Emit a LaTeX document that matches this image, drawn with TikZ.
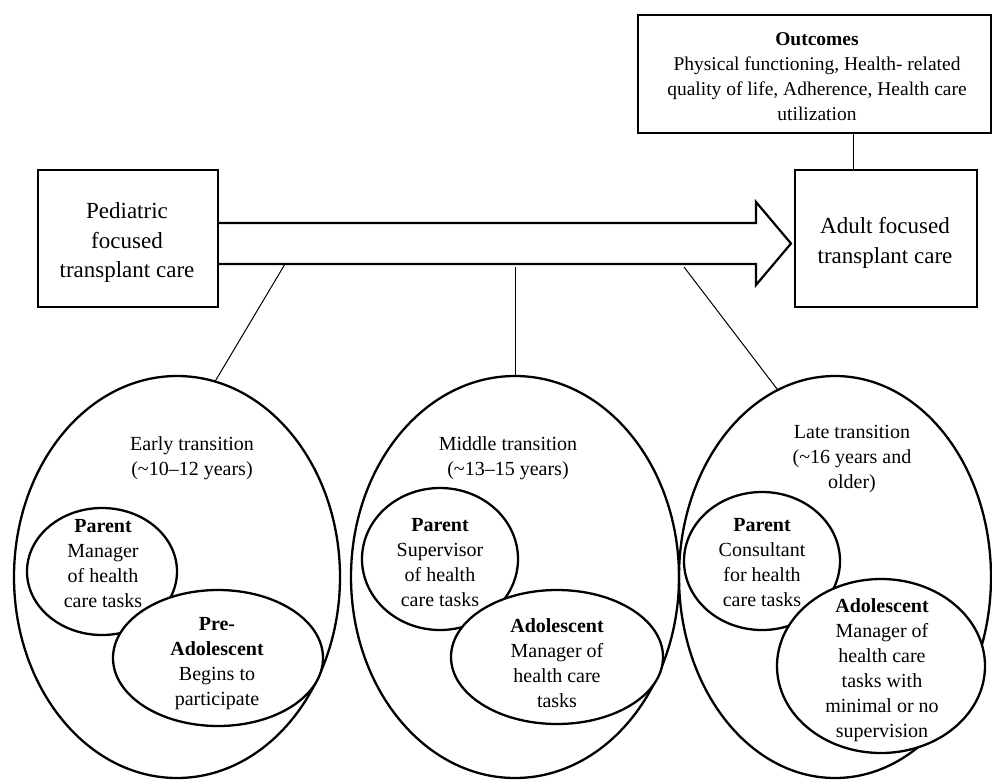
\documentclass[tikz,border=0pt]{standalone}
\usepackage{fontspec}
\setmainfont{Liberation Serif}
\usetikzlibrary{shapes.geometric}
\begin{document}
\begin{tikzpicture}[x=1pt,y=-1pt,
  box/.style={draw,line width=2.2pt,inner sep=0pt,outer sep=0pt},
  stage/.style={draw,ellipse,line width=2.3pt,inner sep=0pt,outer sep=0pt},
  bubble/.style={draw,ellipse,line width=2.3pt,inner sep=0pt,outer sep=0pt,fill=white},
  link/.style={line width=1pt},
  lbl/.style={align=center,font=\fontsize{20}{25}\selectfont,inner sep=0pt},
  boxlbl/.style={align=center,font=\fontsize{23}{29.5}\selectfont,inner sep=0pt},
  outlbl/.style={align=center,font=\fontsize{19.5}{25}\selectfont,inner sep=0pt},
]
\useasboundingbox (0,0) rectangle (992,779);

% care settings and outcomes
\node[box,minimum width=180,minimum height=137] (ped) at (128,238.5) {};
\node[boxlbl] (pedt) at (127,242.5) {Pediatric\\focused\\transplant care};
\node[box,minimum width=182,minimum height=137] (adult) at (886,238.5) {};
\node[boxlbl] (adultt) at (885,243) {Adult focused\\transplant care};
\node[box,minimum width=353,minimum height=118] (outcomes) at (814.5,74) {};
\node[outlbl] (outt) at (817,76.5)
  {\textbf{Outcomes}\\Physical functioning, Health- related\\quality of life, Adherence, Health care\\utilization};

% transition block arrow
\draw[line width=2.2pt,line join=miter]
  (218,223) -- (756,223) -- (756,202) -- (791,243.5) -- (756,285) -- (756,264) -- (218,264);

% outcomes link
\coordinate (ox) at (853,0);
\draw[link] (outcomes.south -| ox) -- (adult.north -| ox);

% transition stages
\node[stage,minimum width=326,minimum height=402] (early) at (177,577) {};
\node[stage,minimum width=328,minimum height=402] (mid) at (515,577) {};
\node[stage,minimum width=312,minimum height=402] (late) at (835,577) {};

\node[lbl] (earlyt) at (192,458.5) {Early transition\\(\textasciitilde 10–12 years)};
\node[lbl] (midt) at (508,458.5) {Middle transition\\(\textasciitilde 13–15 years)};
\node[lbl] (latet) at (852,459) {Late transition\\(\textasciitilde 16 years and\\older)};

% early stage roles
\node[bubble,minimum width=150,minimum height=127] (p1) at (102,571.5) {};
\node[lbl] (p1t) at (103,563.5) {\textbf{Parent}\\Manager\\of health\\care tasks};
\node[bubble,minimum width=210,minimum height=136] (a1) at (218,658) {};
\node[lbl] (a1t) at (217,664) {\textbf{Pre-}\\\textbf{Adolescent}\\Begins to\\participate};

% middle stage roles
\node[bubble,minimum width=156,minimum height=142] (p2) at (440,559) {};
\node[lbl] (p2t) at (440,562.5) {\textbf{Parent}\\Supervisor\\of health\\care tasks};
\node[bubble,minimum width=212,minimum height=134] (a2) at (557,657) {};
\node[lbl] (a2t) at (557,663) {\textbf{Adolescent}\\Manager of\\health care\\tasks};

% late stage roles
\node[bubble,minimum width=156,minimum height=138] (p3) at (762,561) {};
\node[lbl] (p3t) at (762,562.5) {\textbf{Parent}\\Consultant\\for health\\care tasks};
\node[bubble,minimum width=208,minimum height=174] (a3) at (881,666) {};
\node[lbl] (a3t) at (882,670) {\textbf{Adolescent}\\Manager of\\health care\\tasks with\\minimal or no\\supervision};

% links from the arrow to each stage
\coordinate (e1) at (285,264);
\coordinate (e2) at (515,267);
\coordinate (e3) at (684,267);
\draw[link] (e1) -- (early.79);
\draw[link] (e2) -- (mid.north);
\draw[link] (e3) -- (late.107);
\end{tikzpicture}
\end{document}
